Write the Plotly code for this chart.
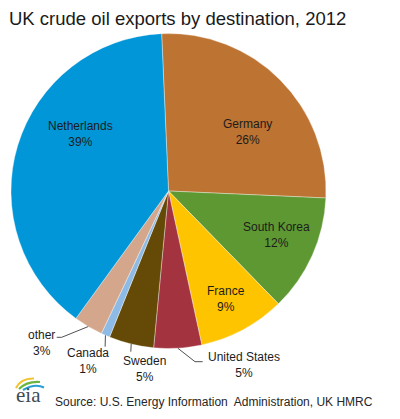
import math
import plotly.graph_objects as go

# ---- data ----
destinations = ["Germany", "South Korea", "France", "United States",
                "Sweden", "Canada", "other", "Netherlands"]
shares = [26.4, 12.0, 8.9, 4.9, 4.6, 0.9, 3.0, 39.3]
slice_colors = ["#BD7331", "#5E9832", "#FFC400", "#A3343F",
                "#654A07", "#8DBBE6", "#D4A68B", "#0096D7"]
title_text = "UK crude oil exports by destination, 2012"
source_text = "Source: U.S. Energy Information&nbsp; Administration, UK HMRC"

# ---- layout constants ----
W, H = 400, 419
CX, CY, R = 168.5, 191.0, 157.5
ROT = -2.5


def px(x):
    return x / W


def py(y):
    return 1 - y / H


fig = go.Figure()
fig.add_trace(go.Pie(
    labels=destinations, values=shares, sort=False, direction="clockwise",
    rotation=ROT, textinfo="none", hoverinfo="skip", showlegend=False,
    marker=dict(colors=slice_colors, line=dict(color="rgba(255,255,255,0.6)", width=0.6)),
    domain=dict(x=[px(CX - R), px(CX + R)], y=[py(CY + R), py(CY - R)]),
))

total = sum(shares)
label_pos = {
    "Netherlands": (80, 134.5), "Germany": (247, 132), "South Korea": (276, 235),
    "France": (226, 299), "United States": (244, 364.5), "Sweden": (144, 369),
    "Canada": (87.5, 360.7), "other": (41, 342.5),
}
annotations = []
for name, v in zip(destinations, shares):
    x, y = label_pos[name]
    annotations.append(dict(
        x=px(x), y=py(y), xref="paper", yref="paper", showarrow=False,
        text=f"{name}<br>{round(v / total * 100):.0f}%", align="center",
        xanchor="center", yanchor="middle",
        font=dict(family="Liberation Sans, Arial", size=12, color="#1c1c1c")))

# leader lines for outside labels, starting at each slice's mid-angle edge
leader_ends = {
    "United States": [(195, 361.7), (202.7, 361.7)],
    "Sweden": [(130.8, 351.7)],
    "Canada": [(105.1, 346.7)],
    "other": [(61.7, 337.3), (56.7, 337.3)],
}
shapes = []
cum = 0.0
for name, v in zip(destinations, shares):
    mid = math.radians(ROT + (cum + v / 2) / total * 360)
    cum += v
    if name in leader_ends:
        sx, sy = CX + R * math.sin(mid), CY - R * math.cos(mid)
        pts = [(sx, sy)] + leader_ends[name]
        path = "M " + " L ".join(f"{px(a):.5f},{py(b):.5f}" for a, b in pts)
        shapes.append(dict(type="path", path=path, xref="paper", yref="paper",
                           line=dict(color="#505050", width=1)))

# eia logo swooshes
def swoosh(p0, c, p1, color, w):
    path = (f"M {px(p0[0]):.5f},{py(p0[1]):.5f} Q {px(c[0]):.5f},{py(c[1]):.5f} "
            f"{px(p1[0]):.5f},{py(p1[1]):.5f}")
    return dict(type="path", path=path, xref="paper", yref="paper",
                line=dict(color=color, width=w))

shapes += [
    swoosh((16, 388), (21, 378), (34, 378.5), "#F2C230", 2.2),
    swoosh((19, 389), (27, 381), (40, 382), "#6DB33F", 2.2),
    swoosh((23, 390), (35, 383), (44, 387.5), "#2A9FD6", 2.2),
]

annotations += [
    dict(x=px(7), y=py(18), xref="paper", yref="paper", showarrow=False,
         text=title_text, xanchor="left", yanchor="middle",
         font=dict(family="Liberation Sans, Arial", size=18.5, color="#1a1a1a")),
    dict(x=px(53), y=py(402), xref="paper", yref="paper", showarrow=False,
         text=source_text, xanchor="left", yanchor="middle",
         font=dict(family="Liberation Sans, Arial", size=12, color="#262626")),
    dict(x=px(29), y=py(395), xref="paper", yref="paper", showarrow=False,
         text="eia", xanchor="center", yanchor="middle",
         font=dict(family="Liberation Serif, DejaVu Serif", size=21, color="#3F4A55")),
]

fig.update_layout(
    width=W, height=H, margin=dict(l=0, r=0, t=0, b=0),
    paper_bgcolor="white", plot_bgcolor="white",
    annotations=annotations, shapes=shapes,
)
fig.write_html("out.html", config={"displayModeBar": False},
               post_script="document.body.style.margin='0';document.body.style.overflow='hidden';")
